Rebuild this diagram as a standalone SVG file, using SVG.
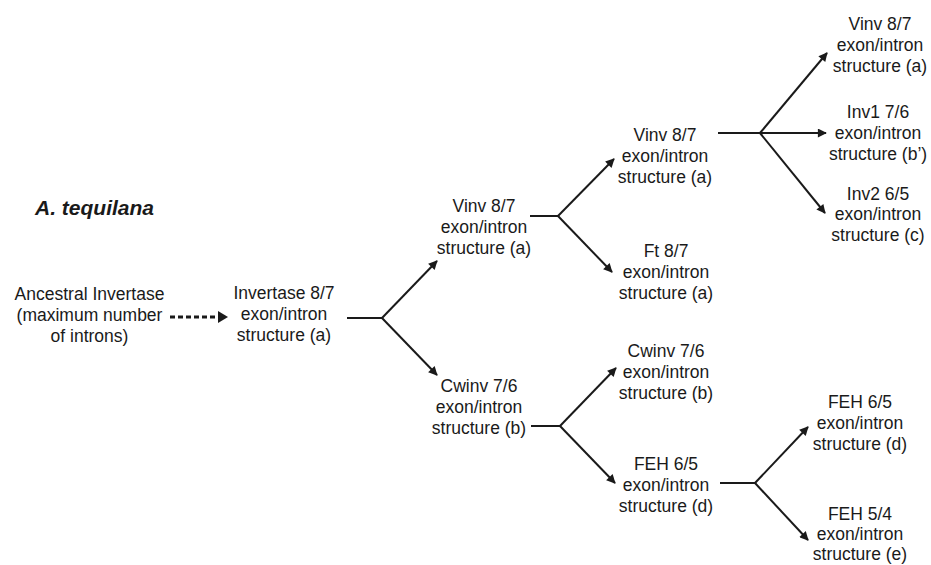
<svg xmlns="http://www.w3.org/2000/svg" width="931" height="565" viewBox="0 0 931 565">
<style>
text{font-family:"Liberation Sans",Arial,sans-serif;font-size:17.5px;fill:#1a1a1a;text-anchor:middle}
.title{font-size:21px;font-weight:bold;font-style:italic;text-anchor:start}
.c{fill:none;stroke:#1a1a1a;stroke-width:2;marker-end:url(#ah)}
.p{fill:none;stroke:#1a1a1a;stroke-width:2}
.d{fill:none;stroke:#1a1a1a;stroke-width:3;stroke-dasharray:5 3;}
</style>
<defs>
<marker id="ah" viewBox="0 0 10 10" refX="9" refY="5" markerWidth="11" markerHeight="9" markerUnits="userSpaceOnUse" orient="auto">
<path d="M0,0 L10,5 L0,10 Z" fill="#1a1a1a"/>
</marker>
</defs>
<rect width="931" height="565" fill="#fff"/>
<text class="title" x="35" y="215">A. tequilana</text>
<g id="connectors">
<path class="d" d="M170,317 L220,317"/>
<path d="M218,311 L228,317 L218,323 Z" fill="#1a1a1a"/>
<path class="p" d="M347,318 L382,318"/>
<path class="c" d="M382,318 L437,261"/>
<path class="c" d="M382,318 L437,375"/>
<path class="p" d="M530,216 L558,216"/>
<path class="c" d="M558,216 L614,159"/>
<path class="c" d="M558,216 L612,272"/>
<path class="p" d="M718,133 L760,133"/>
<path class="c" d="M760,133 L827,53"/>
<path class="c" d="M760,133 L826,133"/>
<path class="c" d="M760,133 L825,213"/>
<path class="p" d="M531,426 L560,426"/>
<path class="c" d="M560,426 L616,368"/>
<path class="c" d="M560,426 L615,483"/>
<path class="p" d="M720,483 L755,483"/>
<path class="c" d="M755,483 L808,427"/>
<path class="c" d="M755,483 L808,540"/>
</g>
<g id="ancestral"><text x="89.5" y="300">Ancestral Invertase</text><text x="89.5" y="321">(maximum number</text><text x="89.5" y="342">of introns)</text></g>
<g id="invertase"><text x="284" y="299">Invertase 8/7</text><text x="284" y="320">exon/intron</text><text x="284" y="341">structure (a)</text></g>
<g id="vinv2"><text x="484" y="212">Vinv 8/7</text><text x="484" y="233">exon/intron</text><text x="484" y="254">structure (a)</text></g>
<g id="cwinv2"><text x="479" y="392">Cwinv 7/6</text><text x="479" y="413">exon/intron</text><text x="479" y="434">structure (b)</text></g>
<g id="vinv3"><text x="665" y="141">Vinv 8/7</text><text x="665" y="162">exon/intron</text><text x="665" y="183">structure (a)</text></g>
<g id="ft3"><text x="666" y="257">Ft 8/7</text><text x="666" y="278">exon/intron</text><text x="666" y="299">structure (a)</text></g>
<g id="cwinv3"><text x="666" y="357">Cwinv 7/6</text><text x="666" y="378">exon/intron</text><text x="666" y="399">structure (b)</text></g>
<g id="feh3"><text x="666" y="470">FEH 6/5</text><text x="666" y="491">exon/intron</text><text x="666" y="512">structure (d)</text></g>
<g id="vinv4"><text x="880" y="30">Vinv 8/7</text><text x="880" y="51">exon/intron</text><text x="880" y="72">structure (a)</text></g>
<g id="inv1"><text x="878" y="118">Inv1 7/6</text><text x="878" y="139">exon/intron</text><text x="878" y="160">structure (b’)</text></g>
<g id="inv2"><text x="878" y="200">Inv2 6/5</text><text x="878" y="220">exon/intron</text><text x="878" y="241">structure (c)</text></g>
<g id="feh4a"><text x="860" y="408">FEH 6/5</text><text x="860" y="429">exon/intron</text><text x="860" y="450">structure (d)</text></g>
<g id="feh4b"><text x="860" y="520">FEH 5/4</text><text x="860" y="540">exon/intron</text><text x="860" y="560">structure (e)</text></g>
</svg>
